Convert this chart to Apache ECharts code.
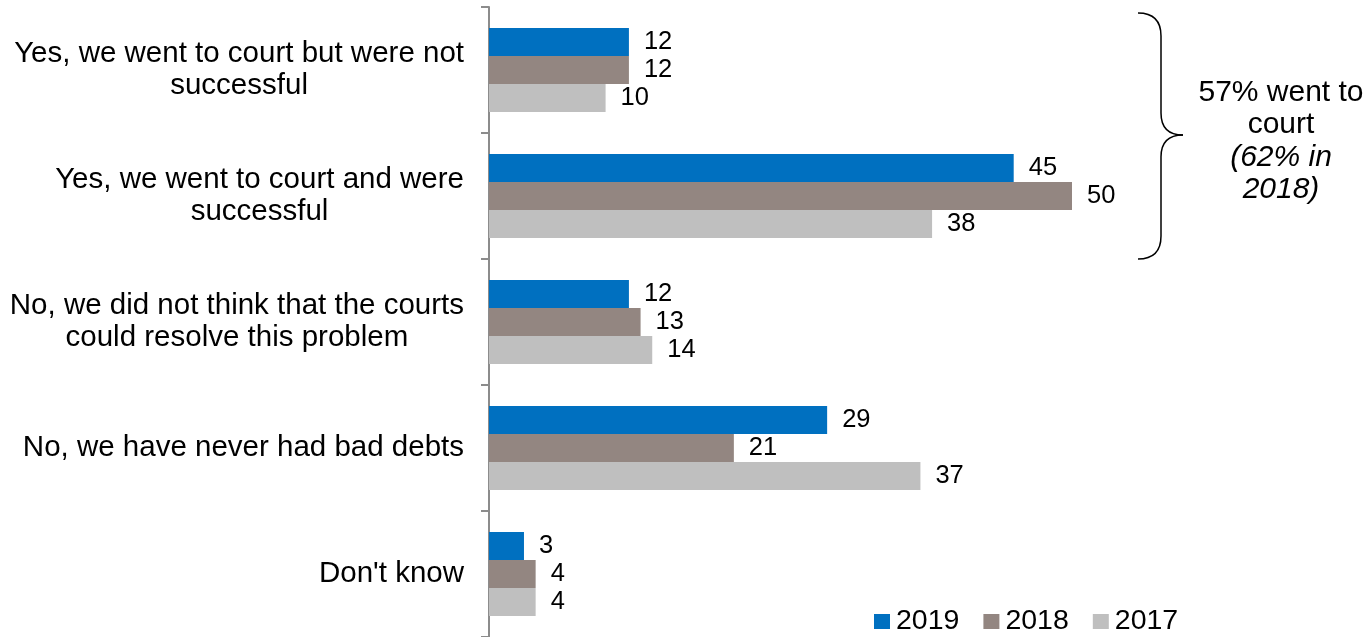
<!DOCTYPE html>
<html>
<head>
<meta charset="utf-8">
<script src="https://cdn.jsdelivr.net/npm/echarts@6/dist/echarts.min.js"></script>
<style>
  html, body { margin: 0; padding: 0; background: #fff; }
  #chart { width: 1367px; height: 637px; }
</style>
</head>
<body>
<div id="chart"></div>
<script>
// Answers about taking bad debts to court, by survey year (percent)
const categories = [
  'Yes, we went to court but were not\nsuccessful',
  'Yes, we went to court and were\nsuccessful',
  'No, we did not think that the courts\ncould resolve this problem',
  'No, we have never had bad debts',
  "Don't know"
];
const seriesNames = ['2019', '2018', '2017'];
const values2019 = [12, 45, 12, 29, 3];
const values2018 = [12, 50, 13, 21, 4];
const values2017 = [10, 38, 14, 37, 4];
const noteLines = ['57% went to', 'court'];
const noteItalicLines = ['(62% in', '2018)'];

const FONT = '"Liberation Sans", Arial, sans-serif';
const colors = ['#0070C0', '#938681', '#BFBFBF'];
const seriesValues = [values2019, values2018, values2017];

const chart = echarts.init(document.getElementById('chart'), null, { renderer: 'canvas' });

const series = seriesNames.map((name, i) => ({
  name: name,
  type: 'bar',
  data: seriesValues[i],
  barWidth: 28,
  barGap: '0%',
  itemStyle: { color: colors[i] },
  label: {
    show: true,
    position: 'right',
    distance: 15,
    color: '#000',
    fontSize: 25.5,
    fontFamily: FONT
  }
}));

const noteText = noteLines.map(l => '{n|' + l + '}')
  .concat(noteItalicLines.map(l => '{i|' + l + '}')).join('\n');

// Curly brace grouping the two "went to court" answers
const braceStyle = { fill: null, stroke: '#000', lineWidth: 1.5 };
const brace = [
  { type: 'bezierCurve', shape: { x1: 1138, y1: 13, cpx1: 1153, cpy1: 13, cpx2: 1161, cpy2: 20, x2: 1161, y2: 36 } },
  { type: 'line', shape: { x1: 1161, y1: 36, x2: 1161, y2: 113 } },
  { type: 'bezierCurve', shape: { x1: 1161, y1: 113, cpx1: 1161, cpy1: 128, cpx2: 1169, cpy2: 135, x2: 1183, y2: 135 } },
  { type: 'bezierCurve', shape: { x1: 1183, y1: 135, cpx1: 1169, cpy1: 135, cpx2: 1161, cpy2: 142, x2: 1161, y2: 157 } },
  { type: 'line', shape: { x1: 1161, y1: 157, x2: 1161, y2: 236 } },
  { type: 'bezierCurve', shape: { x1: 1161, y1: 236, cpx1: 1161, cpy1: 252, cpx2: 1153, cpy2: 259, x2: 1138, y2: 259 } }
].map(el => Object.assign(el, { style: braceStyle, silent: true }));

chart.setOption({
  animation: false,
  backgroundColor: '#fff',
  textStyle: { fontFamily: FONT },
  // plot area runs slightly past the bottom edge of the canvas
  grid: { left: 489, top: 7, width: 699.6, height: 633, containLabel: false },
  xAxis: {
    type: 'value',
    min: 0,
    max: 60,
    show: false,
    splitLine: { show: false }
  },
  yAxis: {
    type: 'category',
    inverse: true,
    data: categories,
    axisLine: { show: true, lineStyle: { color: '#8c8c8c', width: 2 } },
    axisTick: { show: true, length: 8, lineStyle: { color: '#8c8c8c', width: 2 } },
    axisLabel: {
      margin: 25,
      color: '#000',
      fontSize: 29.5,
      fontFamily: FONT,
      formatter: v => v.split('\n').map(l => '{c|' + l + '}').join('\n'),
      rich: {
        c: { align: 'center', fontSize: 29.5, lineHeight: 32, color: '#000', fontFamily: FONT }
      }
    }
  },
  legend: {
    data: seriesNames,
    left: 874,
    top: 607,
    icon: 'rect',
    itemWidth: 16,
    itemHeight: 15,
    itemGap: 24,
    padding: 0,
    textStyle: { fontSize: 28.5, color: '#000', fontFamily: FONT, padding: [0, 0, 0, 1] }
  },
  graphic: brace.concat([
    {
      type: 'text',
      x: 1281,
      y: 141,
      silent: true,
      style: {
        text: noteText,
        align: 'center',
        verticalAlign: 'middle',
        fill: '#000',
        rich: {
          n: { fontSize: 30, lineHeight: 32.5, fontFamily: FONT, align: 'center', fill: '#000' },
          i: { fontSize: 30, lineHeight: 32.5, fontFamily: FONT, fontStyle: 'italic', align: 'center', fill: '#000' }
        }
      }
    }
  ]),
  series: series
});
</script>
</body>
</html>
